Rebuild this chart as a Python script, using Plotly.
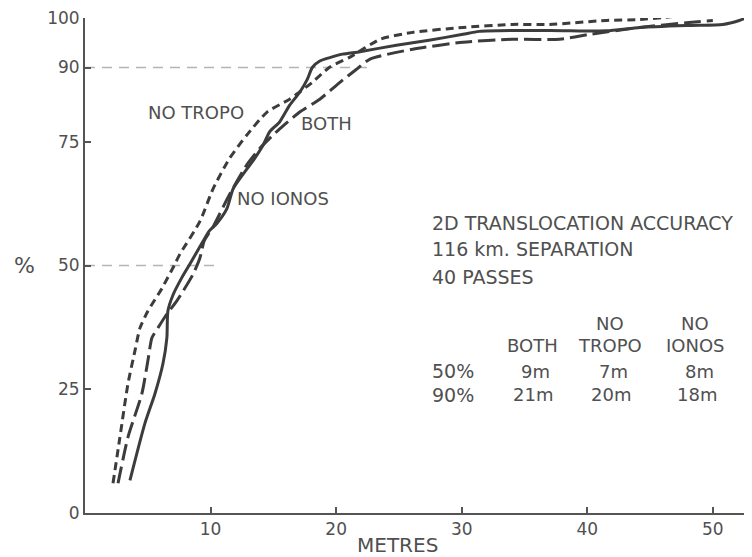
import plotly.graph_objects as go

# BOTH (long dash)
both_x = [2.63, 3.42, 4.53, 5.01, 5.33, 5.81, 6.52, 7.3, 8.6, 9.15, 9.5, 10.2, 11.5, 12.9, 13.9, 15.5, 17.1, 18.7, 20.3, 21.6, 22.7, 26.1, 30.1, 34.0, 37.8, 40.2, 44.2, 48.1, 50.0]
both_y = [6.0, 15.3, 24.1, 30.8, 35.4, 37.4, 40.2, 42.8, 48.2, 51.5, 55.0, 57.8, 64.3, 70.4, 73.6, 77.6, 81.0, 83.6, 87.0, 89.6, 91.7, 93.7, 95.1, 95.7, 95.7, 96.7, 98.1, 99.1, 99.5]

# NO TROPO (short dash)
notropo_x = [2.23, 2.78, 3.42, 3.98, 4.38, 5.01, 6.13, 7.16, 7.56, 9.15, 10.2, 11.5, 12.9, 14.5, 16.3, 18.1, 19.5, 21.1, 23.5, 26.1, 30.1, 34.0, 37.0, 41.5, 44.2, 46.8]
notropo_y = [6.0, 15.3, 26.1, 32.8, 37.4, 40.8, 45.4, 50.3, 52.3, 58.9, 65.5, 71.6, 76.4, 81.0, 83.6, 87.0, 90.1, 92.1, 95.7, 97.1, 98.1, 98.7, 98.7, 99.5, 99.7, 100.3]

# NO IONOS (solid)
noionos_x = [3.58, 4.77, 5.57, 6.21, 6.52, 6.60, 7.0, 7.7, 8.4, 9.4, 9.9, 10.5, 11.3, 11.8, 12.9, 13.5, 14.2, 14.7, 15.5, 16.3, 17.1, 17.7, 18.1, 18.7, 19.5, 20.5, 21.9, 24.8, 27.4, 30.1, 31.4, 37.0, 41.5, 44.2, 48.1, 50.8, 52.1, 53.1]
noionos_y = [6.6, 18.1, 24.1, 30.2, 35.4, 40.8, 44.0, 47.5, 50.5, 54.9, 57.0, 58.5, 61.5, 65.5, 69.5, 71.6, 74.4, 77.0, 79.0, 82.4, 85.0, 87.6, 90.0, 91.3, 92.0, 92.7, 93.2, 94.5, 95.5, 96.7, 97.3, 97.5, 97.4, 98.1, 98.5, 98.7, 99.5, 100.5]

# reference percentile lines
ref_levels = [90, 50]
ref_ends = [22.8, 10.7]

x_ticks = [10, 20, 30, 40, 50]
y_ticks = [0, 25, 50, 75, 90, 100]

table_cols = ["BOTH", "NO<br>TROPO", "NO<br>IONOS"]
table_50 = ["9m", "7m", "8m"]
table_90 = ["21m", "20m", "18m"]

LINE = "#3c3c3c"
TEXT = "#505050"
FONT = "DejaVu Sans"

fig = go.Figure()

for lvl, xe in zip(ref_levels, ref_ends):
    fig.add_trace(go.Scatter(x=[0, xe], y=[lvl, lvl], mode="lines",
                             line=dict(color="#b4b4b4", width=1.5, dash="10px,7px"),
                             hoverinfo="skip", showlegend=False))

fig.add_trace(go.Scatter(x=both_x, y=both_y, mode="lines", name="BOTH",
                         line=dict(color=LINE, width=3, dash="17px,6px", shape="spline", smoothing=0.6)))
fig.add_trace(go.Scatter(x=notropo_x, y=notropo_y, mode="lines", name="NO TROPO",
                         line=dict(color=LINE, width=3, dash="8px,5px", shape="spline", smoothing=0.6)))
fig.add_trace(go.Scatter(x=noionos_x, y=noionos_y, mode="lines", name="NO IONOS",
                         line=dict(color=LINE, width=3, shape="spline", smoothing=0.6)))

ann = []
def txt(x, y, t, size=18, xanchor="center", xref="x", yref="y"):
    ann.append(dict(x=x, y=y, xref=xref, yref=yref, text=t, showarrow=False,
                    xanchor=xanchor, yanchor="middle",
                    font=dict(family=FONT, size=size, color=TEXT)))

txt(8.83, 81.0, "NO TROPO")
txt(19.25, 78.6, "BOTH")
txt(15.8, 63.5, "NO IONOS")
BX = 27.5
txt(BX, 58.5, "2D TRANSLOCATION ACCURACY", size=19, xanchor="left")
txt(BX, 53.3, "116 km. SEPARATION", size=19, xanchor="left")
txt(BX, 47.6, "40 PASSES", size=19, xanchor="left")

col_x = [35.6, 41.8, 48.6]
for cx, head, v50, v90 in zip(col_x, table_cols, table_50, table_90):
    parts = head.split("<br>")
    if len(parts) == 2:
        txt(cx, 38.2, parts[0])
        txt(cx, 33.8, parts[1])
    else:
        txt(cx, 33.8, parts[0])
    txt(cx + 0.3, 28.6, v50)
    txt(cx + 0.1, 23.9, v90)
txt(BX, 28.6, "50%", size=19, xanchor="left")
txt(BX, 23.9, "90%", size=19, xanchor="left")

txt(24.9, -0.0646, "METRES", size=20, yref="paper")
ann.append(dict(x=-0.092, y=50, xref="paper", yref="y", text="%", showarrow=False,
                xanchor="center", yanchor="middle",
                font=dict(family=FONT, size=22, color=TEXT)))

# the page body adds an 8px offset; compensate so the plot area lands where the reference has it
fig.update_layout(
    width=744, height=549,
    margin=dict(l=77, r=4, t=10, b=44),
    paper_bgcolor="white", plot_bgcolor="white",
    showlegend=False,
    annotations=ann,
    xaxis=dict(range=[0, 52.8], tickvals=x_ticks, ticktext=[str(v) for v in x_ticks],
               showgrid=False, zeroline=False, showline=True, linecolor="#555", linewidth=2,
               ticks="inside", ticklen=6, tickwidth=2, tickcolor="#555", automargin=False,
               ticklabeloverflow="allow",
               tickfont=dict(family=FONT, size=17, color=TEXT)),
    yaxis=dict(range=[0, 100], tickvals=y_ticks, ticktext=[str(v) for v in y_ticks],
               showgrid=False, zeroline=False, showline=True, linecolor="#555", linewidth=2,
               ticks="inside", ticklen=6, tickwidth=2, tickcolor="#555", automargin=False,
               ticklabeloverflow="allow",
               tickfont=dict(family=FONT, size=17, color=TEXT)),
)

fig.write_html("out.html")
